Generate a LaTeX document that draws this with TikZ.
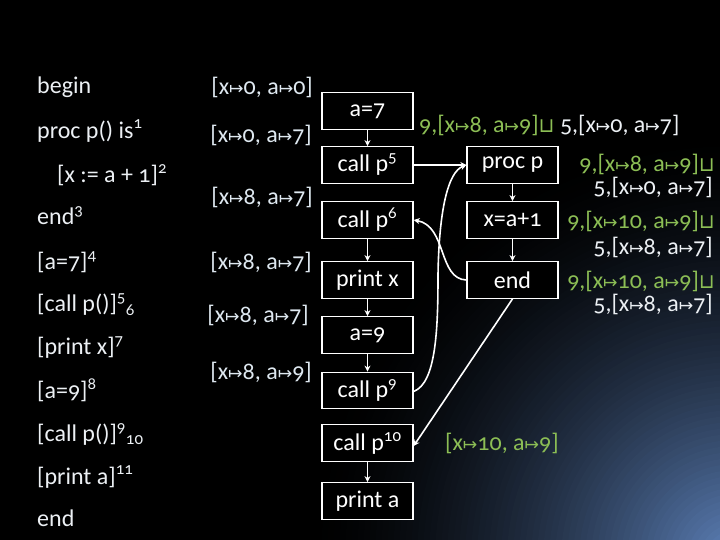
\documentclass[tikz,border=0pt]{standalone}
\usepackage{fontspec}
\setmainfont[Numbers=OldStyle]{Carlito}
\newfontfamily\dv{DejaVu Sans}
\usetikzlibrary{arrows.meta}
\definecolor{grn}{RGB}{140,190,85}
\definecolor{txt}{RGB}{236,240,244}
\definecolor{midtxt}{RGB}{222,232,240}
\definecolor{glow}{RGB}{92,128,184}
\newcommand{\mt}{{\dv\scalebox{0.72}{↦}}}
\newcommand{\lub}{{\dv\scalebox{0.85}{⊔}}}
\tikzset{
  code/.style={anchor=west, text=txt, font=\fontsize{24}{28}\selectfont, inner sep=0pt},
  env/.style={anchor=east, text=midtxt, font=\fontsize{24}{28}\selectfont, inner sep=0pt},
  blk/.style={draw=white, line width=1.3pt, fill=black, text=white, minimum width=91pt, minimum height=36.5pt, inner sep=0pt, font=\fontsize{24}{28}\selectfont},
  lab/.style={text=txt, font=\fontsize{24}{28}\selectfont, inner sep=0pt},
  flow/.style={draw=white, line width=1.6pt, -{Stealth[length=6pt,width=6pt]}}
}
\begin{document}
\begin{tikzpicture}[x=1pt,y=-1pt]
\useasboundingbox (0,0) rectangle (720,540);
\fill[black] (0,0) rectangle (720,540);
\begin{scope}
\clip (0,0) rectangle (720,540);
\foreach \i in {1,...,70}{
  \pgfmathsetmacro{\glowr}{(420/70)*(71-\i)}
  \pgfmathsetmacro{\glowpct}{100*((\i/70)^1.6)}
  \fill[glow!\glowpct!black] (735,560) circle[radius=\glowr pt];
}
\end{scope}
% left column
\node[code] (l1) at (37,87) {begin};
\node[code] (l2) at (37,131) {proc p() is\textsuperscript{1}};
\node[code] (l3) at (57,175) {[x := a + 1]\textsuperscript{2}};
\node[code] (l4) at (37,216) {end\textsuperscript{3}};
\node[code] (l5) at (37,262) {[a=7]\textsuperscript{4}};
\node[code] (l6) at (37,305) {[call p()]\textsuperscript{5}\textsubscript{6}};
\node[code] (l7) at (37,348) {[print x]\textsuperscript{7}};
\node[code] (l8) at (37,390) {[a=9]\textsuperscript{8}};
\node[code] (l9) at (37,434) {[call p()]\textsuperscript{9}\textsubscript{10}};
\node[code] (l10) at (37,477) {[print a]\textsuperscript{11}};
\node[code] (l11) at (37,518) {end};
% middle column
\node[env] (e1) at (313,87) {[x\mt0, a\mt0]};
\node[env] (e2) at (312,135) {[x\mt0, a\mt7]};
\node[env] (e3) at (313,197) {[x\mt8, a\mt7]};
\node[env] (e4) at (312,262) {[x\mt8, a\mt7]};
\node[env] (e5) at (309,315) {[x\mt8, a\mt7]};
\node[env] (e6) at (312,372) {[x\mt8, a\mt9]};
% boxes
\node[blk] (a7) at (367.5,111) {a=7};
\node[blk] (cp5) at (367.5,165) {call p\textsuperscript{5}};
\node[blk] (cp6) at (367.5,220) {call p\textsuperscript{6}};
\node[blk] (px) at (367.5,280) {print x};
\node[blk] (a9) at (367.5,335) {a=9};
\node[blk] (cp9) at (367.5,390.5) {call p\textsuperscript{9}};
\node[blk] (cp10) at (367.5,443) {call p\textsuperscript{10}};
\node[blk] (pa) at (367.5,501) {print a};
\node[blk] (pp) at (512.5,165) {proc p};
\node[blk] (xa) at (512.5,220) {x=a+1};
\node[blk] (en) at (512.5,280) {end};
% arrows
\draw[flow] (a7) -- (cp5);
\draw[flow] (cp6) -- (px);
\draw[flow] (px) -- (a9);
\draw[flow] (a9) -- (cp9);
\draw[flow] (cp10) -- (pa);
\draw[flow] (pp) -- (xa);
\draw[flow] (xa) -- (en);
\draw[flow] (cp5) -- (pp);
\draw[flow] ([yshift=-1pt]cp9.east) .. controls (436,383) and (438,330) .. (438,275)
  .. controls (439,210) and (448,172) .. (pp.west);
\draw[flow] (en.west) .. controls (438,279) and (447,226) .. (cp6.east);
\draw[flow] (en.south) -- ([yshift=-3pt]cp10.east);
% right labels
\node[lab, anchor=west] (r1) at (419,125) {\textcolor{grn}{9,[x\mt8, a\mt9]\lub} 5,[x\mt0, a\mt7]};
\node[lab, anchor=east, text=grn] (r2a) at (715,164) {9,[x\mt8, a\mt9]\lub};
\node[lab, anchor=east] (r2b) at (713,187) {5,[x\mt0, a\mt7]};
\node[lab, anchor=east, text=grn] (r3a) at (715,221) {9,[x\mt10, a\mt9]\lub};
\node[lab, anchor=east] (r3b) at (713,247) {5,[x\mt8, a\mt7]};
\node[lab, anchor=east, text=grn] (r4a) at (715,281) {9,[x\mt10, a\mt9]\lub};
\node[lab, anchor=east] (r4b) at (713,304) {5,[x\mt8, a\mt7]};
\node[lab, anchor=west, text=grn] (r5) at (445,443) {[x\mt10, a\mt9]};
\end{tikzpicture}
\end{document}
